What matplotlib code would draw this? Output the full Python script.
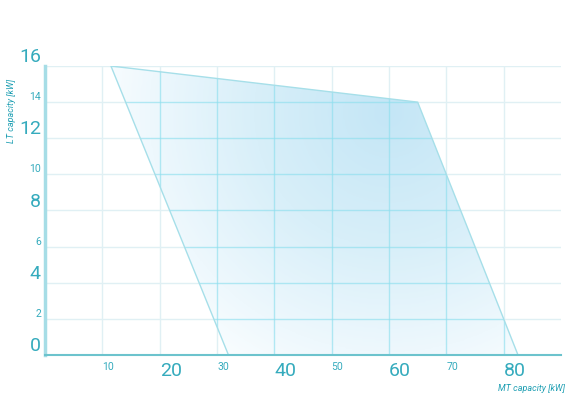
import numpy as np
import matplotlib
matplotlib.use('Agg')
import matplotlib.pyplot as plt
from matplotlib.patches import Polygon
from matplotlib.colors import LinearSegmentedColormap

# operating envelope (MT capacity, LT capacity)
mt_capacity = [11.5, 65, 82.5, 32]
lt_capacity = [16, 14, 0, 0]

x_ticks = [10, 20, 30, 40, 50, 60, 70, 80]
y_ticks = [0, 2, 4, 6, 8, 10, 12, 14, 16]
big_x = [20, 40, 60, 80]
big_y = [0, 4, 8, 12, 16]

teal = '#35abbd'

plt.rcParams['font.family'] = ['Roboto', 'DejaVu Sans']

fig = plt.figure(figsize=(5.75, 4.11), dpi=100)
ax = fig.add_axes([45 / 575, 56 / 411, 516 / 575, 289 / 411])
ax.set_xlim(0, 90)
ax.set_ylim(0, 16)

# radial gradient fill clipped to the polygon
xx, yy = np.meshgrid(np.linspace(0, 90, 400), np.linspace(0, 16, 250))
px = xx * 5.73
py = yy * 18.06
cx, cy = 60 * 5.73, 13.4 * 18.06
r = np.hypot(px - cx, py - cy) / 300.0
r = np.clip(r, 0, 1)
cmap = LinearSegmentedColormap.from_list(
    'g', [(0, '#c4e6f6'), (0.45, '#d8eff9'), (0.8, '#eef8fd'), (1, '#fbfeff')])
im = ax.imshow(r, extent=[0, 90, 0, 16], origin='lower', cmap=cmap,
               aspect='auto', vmin=0, vmax=1, zorder=1,
               interpolation='bilinear')
poly = Polygon(list(zip(mt_capacity, lt_capacity)), closed=True,
               facecolor='none', edgecolor='#a6dfe9', lw=1, zorder=4)
ax.add_patch(poly)
im.set_clip_path(poly)

ax.set_xticks(x_ticks)
ax.set_yticks(y_ticks)
ax.grid(True, color='#e0f0f4', lw=1, zorder=0)
ax.set_axisbelow(True)

# grid lines look stronger where they cross the filled area
for v in x_ticks:
    ln, = ax.plot([v, v], [0, 16], color='#8edfee', lw=1, alpha=0.65, zorder=2)
    ln.set_clip_path(poly)
for v in y_ticks[1:]:
    ln, = ax.plot([0, 90], [v, v], color='#8edfee', lw=1, alpha=0.65, zorder=2)
    ln.set_clip_path(poly)

ax.tick_params(length=0, colors=teal)
ax.tick_params(axis='x', pad=5)
ax.tick_params(axis='y', pad=3)
ax.set_xticklabels([str(v) for v in x_ticks])
ax.set_yticklabels([str(v) for v in y_ticks])
for lbl, v in zip(ax.get_xticklabels(), x_ticks):
    lbl.set_fontsize(14 if v in big_x else 7.5)
    lbl.set_ha('left')
for lbl, v in zip(ax.get_yticklabels(), y_ticks):
    lbl.set_fontsize(14 if v in big_y else 7.5)
    lbl.set_va('bottom')

for s in ['top', 'right']:
    ax.spines[s].set_visible(False)
ax.spines['left'].set_color('#a6dde6')
ax.spines['left'].set_linewidth(2.5)
ax.spines['bottom'].set_color('#6cc3cd')
ax.spines['bottom'].set_linewidth(1.5)
ax.spines['left'].set_zorder(5)
ax.spines['bottom'].set_zorder(5)

fig.text(531 / 575, 1 - 388 / 411, 'MT capacity [kW]', color='#1f9fb3',
         fontsize=6.5, style='italic', ha='center', va='center')
fig.text(12 / 575, 1 - 111 / 411, 'LT capacity [kW]', color='#1f9fb3',
         fontsize=6.5, style='italic', ha='center', va='center', rotation=90)

fig.savefig('out.png', dpi=100)
